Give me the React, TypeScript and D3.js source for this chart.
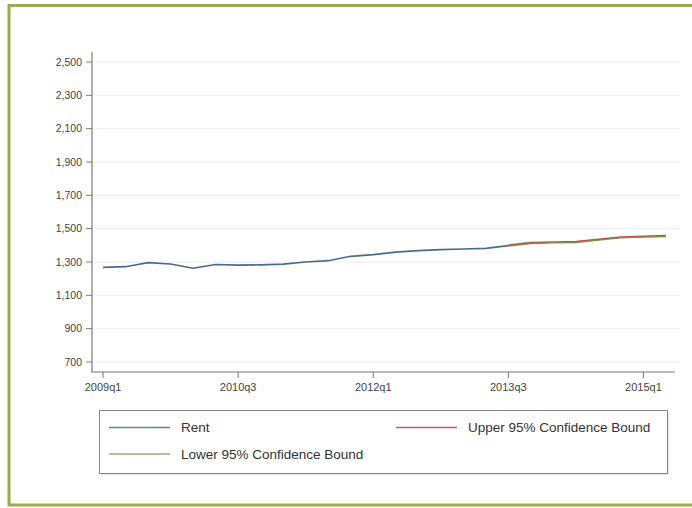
import React from "react";
import * as d3 from "d3";

const quarters: string[] = [
  "2009q1","2009q2","2009q3","2009q4",
  "2010q1","2010q2","2010q3","2010q4",
  "2011q1","2011q2","2011q3","2011q4",
  "2012q1","2012q2","2012q3","2012q4",
  "2013q1","2013q2","2013q3","2013q4",
  "2014q1","2014q2","2014q3","2014q4",
  "2015q1","2015q2",
];

const rent: number[] = [1268,1272,1296,1288,1263,1285,1281,1283,1287,1300,1308,1334,1344,1359,1368,1374,1378,1382,1398];
const forecastStart = 18;
const upper: number[] = [1401,1416,1420,1422,1436,1450,1454,1458];
const lower: number[] = [1396,1411,1415,1417,1431,1445,1449,1453];

const yTicks: number[] = [700,900,1100,1300,1500,1700,1900,2100,2300,2500];
const xTickIdx: number[] = [0,6,12,18,24];

const legendItems = [
  { label: "Rent", color: "#5a82ad" },
  { label: "Upper 95% Confidence Bound", color: "#c9566f" },
  { label: "Lower 95% Confidence Bound", color: "#9aab6c" },
];

const W = 692, H = 508;
const FONT = "'Liberation Sans', Arial, sans-serif";

export default function App() {
  const x = d3.scaleLinear().domain([-0.49, 25.4]).range([92, 675]);
  const y = d3.scaleLinear().domain([640, 2560]).range([372, 52]);

  const line = d3.line<[number, number]>().x(d => x(d[0])).y(d => y(d[1]));
  const rentPts: [number, number][] = rent.map((v, i) => [i, v]);
  const upPts: [number, number][] = upper.map((v, i) => [i + forecastStart, v]);
  const loPts: [number, number][] = lower.map((v, i) => [i + forecastStart, v]);

  const lx = [109, 396];
  const ly = [427.5, 454];

  return (
    <svg width={W} height={H} style={{ position: "absolute", left: 0, top: 0 }} fontFamily={FONT}>
      <rect x={0} y={0} width={W} height={H} fill="#ffffff" />
      <rect x={9} y={5.5} width={700} height={499.5} fill="none" stroke="#9bab4c" strokeWidth={3} />
      {/* grid */}
      {yTicks.map(t => (
        <line key={"g" + t} x1={94} x2={680} y1={y(t)} y2={y(t)} stroke="#ececec" strokeWidth={1} />
      ))}
      {/* y axis */}
      <line x1={92} x2={92} y1={52} y2={372.5} stroke="#777" strokeWidth={1.2} />
      {yTicks.map(t => (
        <g key={"y" + t}>
          <line x1={86} x2={92} y1={y(t)} y2={y(t)} stroke="#777" strokeWidth={1} />
          <text x={82} y={y(t)} dy="0.35em" textAnchor="end" fontSize={10.5} fill="#444">
            {d3.format(",")(t)}
          </text>
        </g>
      ))}
      {/* x axis */}
      <line x1={91.5} x2={675} y1={372} y2={372} stroke="#777" strokeWidth={1.2} />
      {xTickIdx.map(i => (
        <g key={"x" + i}>
          <line x1={x(i)} x2={x(i)} y1={372} y2={378} stroke="#777" strokeWidth={1} />
          <text x={x(i)} y={391} textAnchor="middle" fontSize={11} fill="#444">
            {quarters[i]}
          </text>
        </g>
      ))}
      {/* series */}
      <path d={line(rentPts) || ""} fill="none" stroke="#4a6a8c" strokeWidth={1.6} />
      <path d={line(upPts) || ""} fill="none" stroke="#b5544e" strokeWidth={1.6} />
      <path d={line(loPts) || ""} fill="none" stroke="#8a8a48" strokeWidth={1.4} />
      {/* legend */}
      <rect x={101} y={412} width={568} height={63} fill="#e6e6e6" />
      <rect x={99.5} y={410.5} width={568} height={63} fill="#fff" stroke="#888" strokeWidth={1} />
      {legendItems.map((it, k) => {
        const col = k === 1 ? 1 : 0;
        const row = k === 2 ? 1 : 0;
        return (
          <g key={it.label}>
            <line x1={lx[col]} x2={lx[col] + 61} y1={ly[row]} y2={ly[row]} stroke={it.color} strokeWidth={1.5} />
            <text x={lx[col] + 72} y={ly[row]} dy="0.35em" fontSize={13.5} fill="#333">
              {it.label}
            </text>
          </g>
        );
      })}
    </svg>
  );
}
